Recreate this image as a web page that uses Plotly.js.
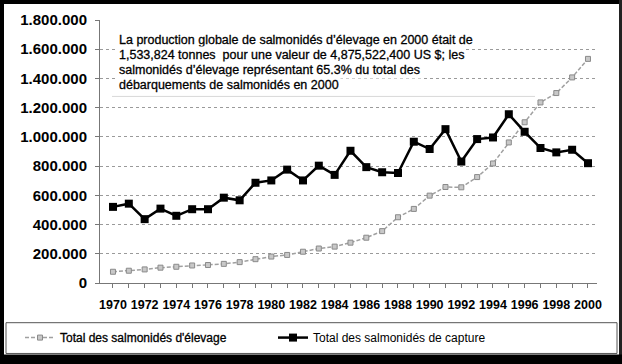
<!DOCTYPE html>
<html>
<head>
<meta charset="utf-8">
<script src="https://cdn.plot.ly/plotly-3.0.1.min.js"></script>
<style>
html,body{margin:0;padding:0;background:#fff;}
#chart{width:622px;height:364px;}
#chart .annotation-text, #chart .legendtext{stroke:#000;stroke-width:0.3px;}
</style>
</head>
<body>
<div id="chart"></div>
<script>
var years = [1970,1971,1972,1973,1974,1975,1976,1977,1978,1979,1980,1981,1982,1983,1984,1985,1986,1987,1988,1989,1990,1991,1992,1993,1994,1995,1996,1997,1998,1999,2000];
var farmed = [77000,84000,93000,105000,111000,120000,123000,131000,143000,163000,181000,192000,214000,236000,249000,276000,310000,355000,450000,507000,598000,657000,655000,725000,818000,962000,1100000,1236000,1300000,1407000,1533824];
var capture = [521000,543000,437000,509000,460000,505000,505000,584000,566000,686000,702000,776000,702000,803000,740000,905000,793000,758000,753000,967000,917000,1053000,831000,985000,996000,1155000,1035000,924000,894000,912000,820000];
var seriesNames = ["Total des salmonidés d'élevage", "Total des salmonidés de capture"];
var noteLines = [
  "La production globale de salmonidés d’élevage en 2000 était de",
  "1,533,824 tonnes  pour une valeur de 4,875,522,400 US $; les",
  "salmonidés d’élevage représentant 65.3% du total des",
  "débarquements de salmonidés en 2000"
];
var xTicks = [1970,1972,1974,1976,1978,1980,1982,1984,1986,1988,1990,1992,1994,1996,1998,2000];

// pixel -> paper helpers (plot area: x 100..597, y 20..285)
var L = 100, R = 597, T = 20, B = 285;
function px(x){ return (x - L) / (R - L); }
function py(y){ return (B - y) / (B - T); }

var font = "Liberation Sans, Arial, Helvetica, sans-serif";

var traces = [
  {
    x: years, y: farmed, name: seriesNames[0], type: 'scatter', mode: 'lines+markers',
    line: {color: '#a0a0a0', width: 1.5, dash: '4px,2px'},
    marker: {symbol: 'square', size: 5, color: '#c8c8c8', line: {color: '#8a8a8a', width: 1}},
    legend: 'legend'
  },
  {
    x: years, y: capture, name: seriesNames[1], type: 'scatter', mode: 'lines+markers',
    line: {color: '#000', width: 2.5},
    marker: {symbol: 'square', size: 8, color: '#000'},
    legend: 'legend2'
  }
];

var annotations = noteLines.map(function(t, i){
  return {
    xref: 'paper', yref: 'paper', x: px(117), y: py(40 + i * 15.3),
    xanchor: 'left', yanchor: 'middle', text: t, showarrow: false,
    font: {family: font, size: 12.5, color: '#000'},
    bgcolor: '#fff', borderpad: 1
  };
});

var shapes = [
  // note box bottom edge
  {type: 'line', xref: 'paper', yref: 'paper', x0: px(112), x1: px(535), y0: py(97), y1: py(97), line: {color: '#d8d8d8', width: 1}},
  // legend box
  {type: 'rect', xref: 'paper', yref: 'paper', x0: px(6), x1: px(617), y0: py(356), y1: py(325), line: {color: '#555', width: 1}},
  // outer black frame
  {type: 'rect', xref: 'paper', yref: 'paper', x0: px(-2), x1: px(4), y0: py(370), y1: py(-5), fillcolor: '#000', line: {width: 0}, layer: 'above'},
  {type: 'rect', xref: 'paper', yref: 'paper', x0: px(-2), x1: px(625), y0: py(4), y1: py(-5), fillcolor: '#000', line: {width: 0}, layer: 'above'},
  {type: 'rect', xref: 'paper', yref: 'paper', x0: px(619), x1: px(625), y0: py(370), y1: py(-5), fillcolor: '#222', line: {width: 0}, layer: 'above'},
  {type: 'rect', xref: 'paper', yref: 'paper', x0: px(-2), x1: px(625), y0: py(370), y1: py(357), fillcolor: '#000', line: {width: 0}, layer: 'above'}
];

var layout = {
  width: 622, height: 364,
  margin: {l: L, r: 622 - R, t: T, b: 364 - B},
  paper_bgcolor: '#fff', plot_bgcolor: '#fff',
  separators: ',.',
  showlegend: true,
  xaxis: {
    range: [1969.18, 2000.57], tickvals: xTicks, ticktext: xTicks.map(String),
    showgrid: false, zeroline: false, showline: true, linecolor: '#777', linewidth: 1,
    ticks: 'outside', ticklen: 4, tickcolor: '#777',
    minor: {dtick: 1, tick0: 1970, ticks: 'outside', ticklen: 4, tickcolor: '#777', showgrid: false},
    tickfont: {family: font, size: 12.5, color: '#000', weight: 'bold'},
    ticklabelstandoff: 6, fixedrange: true
  },
  yaxis: {
    range: [0, 1800000], dtick: 200000, tickformat: ',d',
    showgrid: true, gridcolor: '#9a9a9a', gridwidth: 1, griddash: 'dot',
    zeroline: false, showline: true, linecolor: '#777', linewidth: 1,
    ticks: 'outside', ticklen: 4, tickcolor: '#777',
    tickfont: {family: font, size: 15, color: '#000', weight: 'bold'},
    ticklabelstandoff: 5, fixedrange: true
  },
  legend: {
    orientation: 'h', x: px(20), y: py(340), xanchor: 'left', yanchor: 'middle',
    bgcolor: 'rgba(0,0,0,0)', borderwidth: 0, font: {family: font, size: 12, color: '#000'}
  },
  legend2: {
    orientation: 'h', x: px(273), y: py(340), xanchor: 'left', yanchor: 'middle',
    bgcolor: 'rgba(0,0,0,0)', borderwidth: 0, font: {family: font, size: 12, color: '#000'}
  },
  annotations: annotations,
  shapes: shapes
};

Plotly.newPlot('chart', traces, layout, {displayModeBar: false, staticPlot: true});
</script>
</body>
</html>
